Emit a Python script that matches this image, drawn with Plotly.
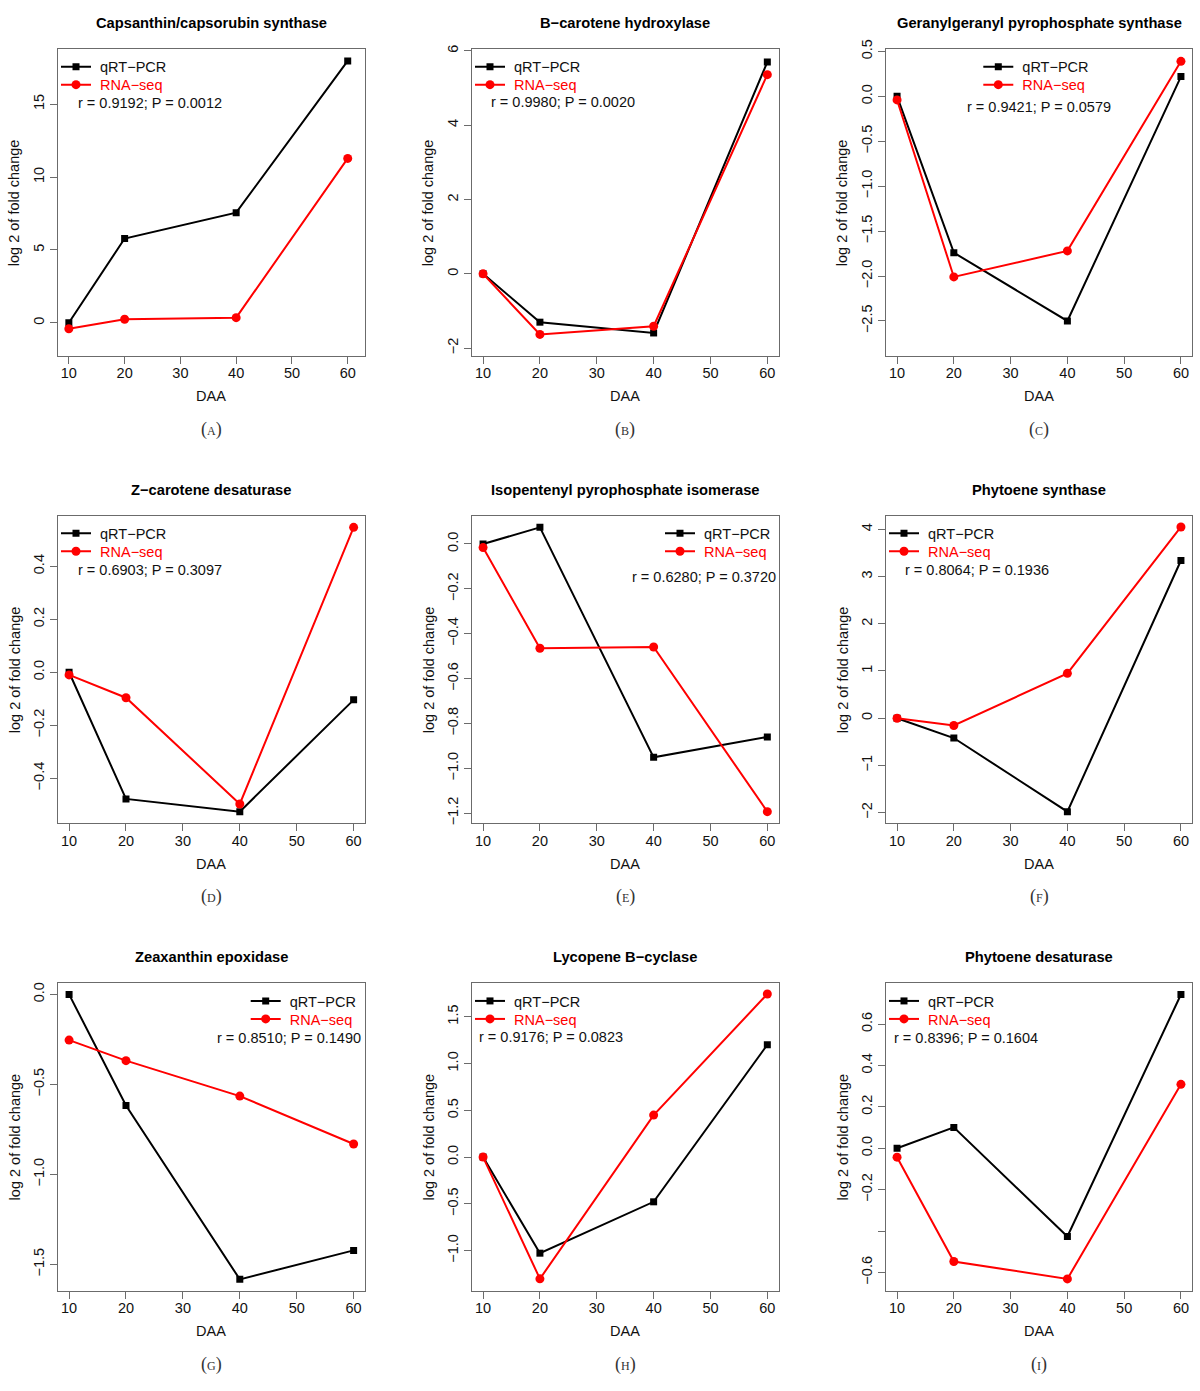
import plotly.graph_objects as go

# ---------------- data ----------------
DAA = [10, 20, 40, 60]
x_tick_values = [10, 20, 30, 40, 50, 60]

genes = [
    "Capsanthin/capsorubin synthase",
    "B\u2212carotene hydroxylase",
    "Geranylgeranyl pyrophosphate synthase",
    "Z\u2212carotene desaturase",
    "Isopentenyl pyrophosphate isomerase",
    "Phytoene synthase",
    "Zeaxanthin epoxidase",
    "Lycopene B\u2212cyclase",
    "Phytoene desaturase",
]
panel_tags = ["A", "B", "C", "D", "E", "F", "G", "H", "I"]
stats_text = [
    "r = 0.9192; P = 0.0012",
    "r = 0.9980; P = 0.0020",
    "r = 0.9421; P = 0.0579",
    "r = 0.6903; P = 0.3097",
    "r = 0.6280; P = 0.3720",
    "r = 0.8064; P = 0.1936",
    "r = 0.8510; P = 0.1490",
    "r = 0.9176; P = 0.0823",
    "r = 0.8396; P = 0.1604",
]

qrt_capsanthin = [0.0, 5.78, 7.56, 17.97]
rna_capsanthin = [-0.41, 0.24, 0.35, 11.28]
qrt_bch = [0.0, -1.30, -1.59, 5.70]
rna_bch = [0.0, -1.63, -1.41, 5.36]
qrt_ggpps = [0.0, -1.74, -2.50, 0.22]
rna_ggpps = [-0.04, -2.01, -1.72, 0.39]
qrt_zds = [0.0, -0.478, -0.526, -0.104]
rna_zds = [-0.010, -0.096, -0.497, 0.547]
qrt_ipi = [0.0, 0.074, -0.951, -0.860]
rna_ipi = [-0.016, -0.465, -0.459, -1.193]
qrt_psy = [0.0, -0.42, -1.98, 3.34]
rna_psy = [0.0, -0.155, 0.95, 4.05]
qrt_zep = [0.0, -0.617, -1.583, -1.422]
rna_zep = [-0.254, -0.368, -0.565, -0.831]
qrt_lcyb = [0.0, -1.027, -0.478, 1.201]
rna_lcyb = [0.0, -1.301, 0.449, 1.743]
qrt_pds = [0.0, 0.101, -0.426, 0.743]
rna_pds = [-0.043, -0.547, -0.631, 0.309]

qrt_series = [qrt_capsanthin, qrt_bch, qrt_ggpps, qrt_zds, qrt_ipi,
              qrt_psy, qrt_zep, qrt_lcyb, qrt_pds]
rna_series = [rna_capsanthin, rna_bch, rna_ggpps, rna_zds, rna_ipi,
              rna_psy, rna_zep, rna_lcyb, rna_pds]

yticks_A = [0, 5, 10, 15]
yticks_B = [-2, 0, 2, 4, 6]
yticks_C = [-2.5, -2.0, -1.5, -1.0, -0.5, 0.0, 0.5]
yticks_D = [-0.4, -0.2, 0.0, 0.2, 0.4]
yticks_E = [-1.2, -1.0, -0.8, -0.6, -0.4, -0.2, 0.0]
yticks_F = [-2, -1, 0, 1, 2, 3, 4]
yticks_G = [-1.5, -1.0, -0.5, 0.0]
yticks_H = [-1.0, -0.5, 0.0, 0.5, 1.0, 1.5]
yticks_I = [-0.6, -0.4, -0.2, 0.0, 0.2, 0.4, 0.6]
ytick_sets = [yticks_A, yticks_B, yticks_C, yticks_D, yticks_E,
              yticks_F, yticks_G, yticks_H, yticks_I]
ytick_hidden = [[], [], [], [], [], [], [], [], [-0.4]]  # R dropped overlapping label
ytick_decimals = [0, 0, 1, 1, 1, 0, 1, 1, 1]

# ---------------- layout helpers ----------------
W, H = 1200, 1391
FONT = "Liberation Sans, Arial, Helvetica, sans-serif"
SERIF = "Liberation Serif, DejaVu Serif, serif"
FRAME = "#6b6b6b"
RED = "#ff0000"
NBSP = "\u00a0"


def px(x):
    return x / W


def py(y):
    return 1 - y / H


cols = [(57.7, 365.0), (471.7, 778.7), (885.7, 1192.3)]
rows = [(49.0, 356.0), (515.7, 823.3), (982.7, 1290.7)]

x_ranges = [[8.0, 63.1]] + [[8.0, 62.0]] * 8
y_ranges = [
    [-2.28, 18.79], [-2.21, 6.05], [-2.89, 0.527],
    [-0.57, 0.591], [-1.245, 0.126], [-2.226, 4.289],
    [-1.646, 0.065], [-1.428, 1.864], [-0.688, 0.80],
]
# legend placement: (line start x, first item y, stats x, stats y, stats anchor)
legend_pos = [
    (61.0, 66.7, 76.0, 103.3, "left"),
    (475.0, 66.7, 489.3, 101.7, "left"),
    (983.3, 66.7, 1039.0, 107.3, "center"),
    (61.0, 533.3, 76.0, 570.0, "left"),
    (665.0, 533.3, 777.7, 576.7, "right"),
    (889.0, 533.3, 903.3, 570.0, "left"),
    (250.7, 1001.0, 363.3, 1038.3, "right"),
    (475.0, 1001.0, 477.3, 1036.7, "left"),
    (889.0, 1001.0, 891.7, 1038.3, "left"),
]
ITEM_GAP = 18.0

fig = go.Figure()
layout = dict(
    template="none",
    width=W, height=H, autosize=False,
    margin=dict(l=0, r=0, t=0, b=0, pad=0, autoexpand=False),
    paper_bgcolor="white", plot_bgcolor="white",
    font=dict(family=FONT, size=14.5, color="#111111"),
    showlegend=True, hovermode="closest",
)
annotations = []

for i in range(9):
    r, c = divmod(i, 3)
    left, right = cols[c]
    top, bottom = rows[r]
    xa = "x" if i == 0 else f"x{i + 1}"
    ya = "y" if i == 0 else f"y{i + 1}"
    xkey = "xaxis" if i == 0 else f"xaxis{i + 1}"
    ykey = "yaxis" if i == 0 else f"yaxis{i + 1}"
    leg1 = f"legend{2 * i + 1}" if i > 0 else "legend"
    leg2 = f"legend{2 * i + 2}"

    fig.add_trace(go.Scatter(
        x=DAA, y=qrt_series[i], xaxis=xa, yaxis=ya, mode="lines+markers",
        name=NBSP + "qRT\u2212PCR", legend=leg1,
        line=dict(color="black", width=2),
        marker=dict(symbol="square", size=7, color="black"),
        hoverinfo="x+y",
    ))
    fig.add_trace(go.Scatter(
        x=DAA, y=rna_series[i], xaxis=xa, yaxis=ya, mode="lines+markers",
        name=f'{NBSP}<span style="color:{RED}">RNA\u2212seq</span>', legend=leg2,
        line=dict(color=RED, width=2),
        marker=dict(symbol="circle", size=9, color=RED),
        hoverinfo="x+y",
    ))

    tv = ytick_sets[i]
    dec = ytick_decimals[i]
    tt = []
    for v in tv:
        if v in ytick_hidden[i]:
            tt.append("")
        else:
            s = f"{abs(v):.{dec}f}"
            tt.append(("\u2212" + s) if v < 0 else s)

    common = dict(
        showline=True, mirror=True, linecolor=FRAME, linewidth=1,
        ticks="outside", ticklen=7, tickwidth=1, tickcolor=FRAME,
        showgrid=False, zeroline=False, automargin=False,
        tickfont=dict(family=FONT, size=14.5, color="#111111"),
        fixedrange=True,
    )
    layout[xkey] = dict(
        common, domain=[px(left), px(right)], range=x_ranges[i],
        tickmode="array", tickvals=x_tick_values,
        ticktext=[str(v) for v in x_tick_values], anchor=ya,
        ticklabelstandoff=-3,
    )
    layout[ykey] = dict(
        common, domain=[py(bottom), py(top)], range=y_ranges[i],
        tickmode="array", tickvals=tv, ticktext=tt, tickangle=-90, anchor=xa,
    )

    lx, ly, sx, sy, sanchor = legend_pos[i]
    for k, lg in enumerate([leg1, leg2]):
        layout[lg] = dict(
            x=px(lx - 5), y=py(ly + k * ITEM_GAP), xref="paper", yref="paper",
            xanchor="left", yanchor="middle", bgcolor="rgba(0,0,0,0)",
            borderwidth=0, itemwidth=30, itemclick=False, itemdoubleclick=False,
            font=dict(family=FONT, size=14.5,
                      color="#111111" if k == 0 else RED),
        )

    cx = (left + right) / 2
    cy = (top + bottom) / 2
    annotations += [
        dict(text=f"<b>{genes[i]}</b>", x=px(cx), y=py(top - 26),
             xref="paper", yref="paper", xanchor="center", yanchor="middle",
             showarrow=False, font=dict(family=FONT, size=14.7, color="black")),
        dict(text="log 2 of fold change", x=px(left - 43), y=py(cy),
             xref="paper", yref="paper", xanchor="center", yanchor="middle",
             textangle=-90, showarrow=False,
             font=dict(family=FONT, size=14.5, color="#111111")),
        dict(text="DAA", x=px(cx), y=py(bottom + 40.5),
             xref="paper", yref="paper", xanchor="center", yanchor="middle",
             showarrow=False, font=dict(family=FONT, size=14.5, color="#111111")),
        dict(text=f'(<span style="font-size:12px">{panel_tags[i]}</span>)',
             x=px(cx), y=py(bottom + 73.5),
             xref="paper", yref="paper", xanchor="center", yanchor="middle",
             showarrow=False, font=dict(family=SERIF, size=18, color="#333333")),
        dict(text=stats_text[i], x=px(sx), y=py(sy),
             xref="paper", yref="paper", xanchor=sanchor, yanchor="middle",
             showarrow=False, font=dict(family=FONT, size=14.5, color="#111111")),
    ]

layout["annotations"] = annotations
fig.update_layout(**layout)
fig.write_html(
    "out.html",
    config={"displayModeBar": False},
    post_script="document.body.style.margin='0';document.body.style.padding='0';",
)
